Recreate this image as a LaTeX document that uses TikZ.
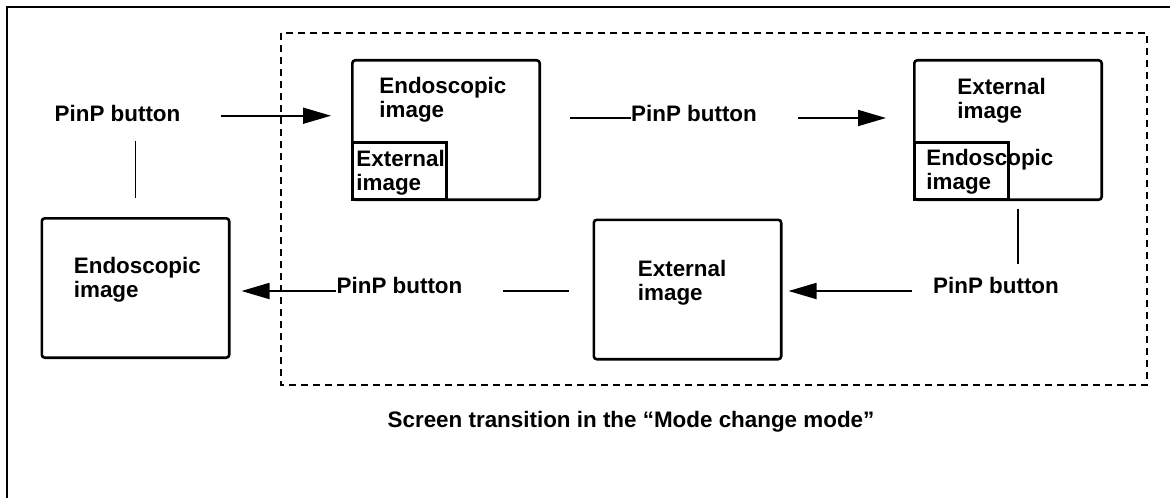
\documentclass[tikz,border=0pt]{standalone}
\usepackage{fontspec}
\setmainfont{Liberation Sans}
\usetikzlibrary{arrows.meta,positioning,calc}
\tikzset{
  screen/.style={draw,line width=1.3pt,rounded corners=1.5pt,minimum width=93.7pt,
    minimum height=69.7pt,inner sep=0pt},
  pip/.style={draw,line width=1.3pt,minimum width=47.2pt,minimum height=28.7pt,
    inner sep=0pt,anchor=south west},
  words/.style={font=\bfseries\fontsize{11.2}{12}\selectfont,align=left,
    inner sep=0pt,anchor=north west},
  btn/.style={font=\bfseries\fontsize{11.2}{12}\selectfont,inner sep=0pt},
  link/.style={line width=0.9pt},
  arrow/.style={-{Triangle[length=14pt,width=8pt]},line width=0.9pt},
  dashbox/.style={dash pattern=on 3.5pt off 2.5pt,line width=0.9pt}
}

\begin{document}
\begin{tikzpicture}[x=0.5pt,y=-0.5pt]
  \useasboundingbox (0,0) rectangle (1170,497);
  \clip (0,0) rectangle (1170,497);
  % page frame and mode change area
  \draw[line width=1pt] (7,7) rectangle (1200,530);
  \draw[dashbox] (281,33) rectangle (1147,385);

  % screens
  \node[screen] (scr1) at (446,130) {};
  \node[pip] (pip1) at (scr1.south west) {};
  \node[screen] (scr2) at (1008,130) {};
  \node[pip] (pip2) at (scr2.south west) {};
  \node[screen] (scr3) at (135.5,288) {};
  \node[screen] (scr4) at (687.5,289.5) {};

  \node[words] (txt1) at ([xshift=14pt,yshift=-9pt]scr1.north west) {Endoscopic\\image};
  \node[words] (sub1) at ([xshift=2.5pt,yshift=-4.5pt]pip1.north west) {External\\image};
  \node[words] (txt2) at ([xshift=22pt,yshift=-9.5pt]scr2.north west) {External\\image};
  \node[words] (sub2) at ([xshift=6.5pt,yshift=-4pt]pip2.north west) {Endoscopic\\image};
  \node[words] (txt3) at ([xshift=16.5pt,yshift=-20pt]scr3.north west) {Endoscopic\\image};
  \node[words] (txt4) at ([xshift=22.5pt,yshift=-20.5pt]scr4.north west) {External\\image};

  % buttons
  \node[btn] (btn1) at (117.5,113) {PinP button};
  \node[btn] (btn2) at (694,113) {PinP button};
  \node[btn] (btn3) at (399.5,285) {PinP button};
  \node[btn] (btn4) at (996,285) {PinP button};
  \node[btn] (note) at (631,422) {Screen transition in the “Mode change mode”};

  \coordinate (b2w) at ([yshift=1.5pt]btn2.base west);
  \coordinate (b2e) at ([yshift=1.5pt]btn2.base east);
  \coordinate (b3w) at ([yshift=1pt]btn3.base west);
  \coordinate (b3e) at ([yshift=1pt]btn3.base east);
  \coordinate (b4w) at ([yshift=1pt]btn4.base west);
  \coordinate (drop) at ([xshift=5pt]scr2.south);

  % transitions
  \draw[link,shorten <=9.5pt,shorten >=9.5pt] (btn1.south -| scr3.north) -- (scr3.north);
  \draw[arrow,shorten <=20pt,shorten >=10pt] (btn1.mid east) -- (btn1.mid east -| scr1.west);
  \draw[link,shorten <=14.5pt] (b2w -| scr1.east) -- (b2w);
  \draw[arrow,shorten <=20.5pt,shorten >=13.5pt] (b2e) -- (b2e -| scr2.west);
  \draw[link,shorten <=4pt,shorten >=6pt] (drop) -- (drop |- btn4.north);
  \draw[arrow,shorten <=10.5pt,shorten >=3pt] (b4w) -- (b4w -| scr4.east);
  \draw[link,shorten <=12pt,shorten >=20pt] (b3e -| scr4.west) -- (b3e);
  \draw[arrow,shorten >=5.5pt] (b3w) -- (b3w -| scr3.east);
\end{tikzpicture}
\end{document}
